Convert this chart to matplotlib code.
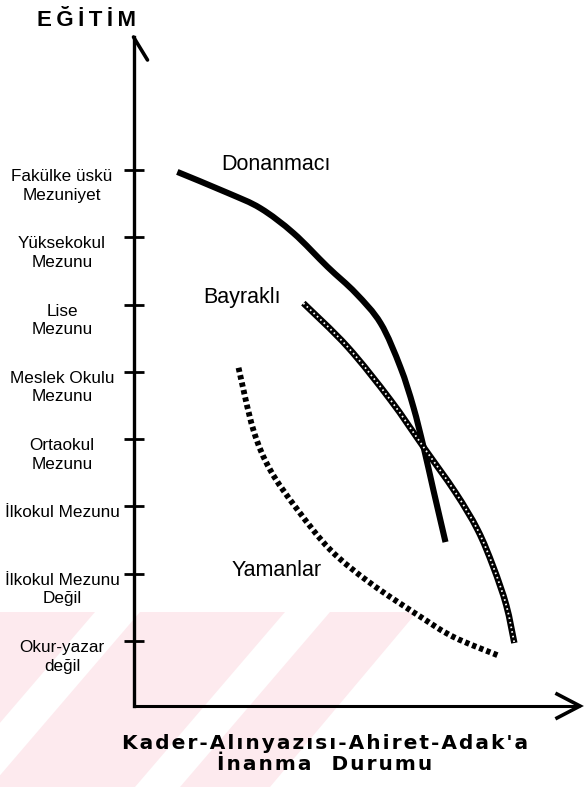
import matplotlib
matplotlib.use("Agg")
import matplotlib.pyplot as plt
from matplotlib.patches import Polygon, PathPatch
from matplotlib.path import Path
import numpy as np

# ---------------- data ----------------
education_levels = ["Okur-yazar\ndeğil", "İlkokul Mezunu\nDeğil", "İlkokul Mezunu",
                    "Ortaokul\nMezunu", "Meslek Okulu\nMezunu", "Lise\nMezunu",
                    "Yüksekokul\nMezunu", "Fakülke üskü\nMezuniyet"]
level_values = list(range(len(education_levels)))

# belief (x, arbitrary 0-100 scale) vs education level (y)
donanmaci_x = [9.8, 21.0, 28.4, 35.8, 43.4, 49.7, 55.3, 59.7, 62.6, 64.9, 67.1, 69.8]
donanmaci_y = [6.97, 6.66, 6.43, 6.06, 5.56, 5.17, 4.72, 4.07, 3.48, 2.88, 2.24, 1.47]

bayrakli_x = [38.0, 47.9, 57.5, 64.9, 72.0, 77.0, 80.5, 83.4, 85.2]
bayrakli_y = [5.02, 4.37, 3.58, 2.88, 2.21, 1.65, 1.10, 0.53, -0.03]

yamanlar_x = [23.5, 26.8, 30.6, 36.7, 44.1, 53.0, 64.2, 71.6, 81.4]
yamanlar_y = [4.06, 3.14, 2.54, 1.95, 1.35, 0.86, 0.36, 0.06, -0.21]

series_names = ["Donanmacı", "Bayraklı", "Yamanlar"]
y_title = "EĞİTİM"
x_title_lines = ["Kader-Alınyazısı-Ahiret-Adak'a", "İnanma  Durumu"]

# ---------------- helpers ----------------
def smooth_path(xs, ys):
    """Catmull-Rom curve through the points, as a Bezier Path."""
    p = np.column_stack([xs, ys]).astype(float)
    n = len(p)
    verts = [p[0]]
    codes = [Path.MOVETO]
    for i in range(n - 1):
        p0 = p[i - 1] if i > 0 else p[i]
        p1, p2 = p[i], p[i + 1]
        p3 = p[i + 2] if i + 2 < n else p[i + 1]
        c1 = p1 + (p2 - p0) / 6.0
        c2 = p2 - (p3 - p1) / 6.0
        verts += [c1, c2, p2]
        codes += [Path.CURVE4] * 3
    return Path(verts, codes)

def spaced(s, sep):
    return sep.join(s)

# ---------------- figure geometry ----------------
W, H = 586, 787
fig = plt.figure(figsize=(W / 100, H / 100), dpi=100)
fig.patch.set_facecolor("white")

# background axes in pixel coordinates for the faint pink watermark
bg = fig.add_axes([0, 0, 1, 1], zorder=0)
bg.set_xlim(0, W)
bg.set_ylim(H, 0)
bg.axis("off")
pink = "#fdeaee"
bg.add_patch(Polygon([(0, 612), (417, 612), (270, 787), (0, 787)], closed=True,
                     facecolor=pink, edgecolor="none"))
for xt in (95, 285):
    bg.add_patch(Polygon([(xt, 612), (xt + 45, 612), (xt + 45 - 150, 787), (xt - 150, 787)],
                         closed=True, facecolor="white", edgecolor="none"))

# main axes
PX_LVL = 67.3          # pixels per education level
Y0 = 641               # pixel row of level 0
PX_X = 4.47            # pixels per x unit
ax_left_px, ax_bot_px, ax_top_px = 133.5, 706, 37
ax = fig.add_axes([ax_left_px / W, (H - ax_bot_px) / H,
                   (W - ax_left_px) / W, (ax_bot_px - ax_top_px) / H], zorder=1)
ax.patch.set_alpha(0)
ax.set_xlim(0, (W - ax_left_px) / PX_X)
ax.set_ylim((Y0 - ax_bot_px) / PX_LVL, (Y0 - ax_top_px) / PX_LVL)
ymin, ymax = ax.get_ylim()

for s in ["top", "right", "bottom"]:
    ax.spines[s].set_visible(False)
ax.spines["left"].set_linewidth(2.4)

# x axis line with arrow
x_end = (580 - ax_left_px) / PX_X
ax.plot([0, x_end], [ymin, ymin], color="black", lw=2.2, clip_on=False,
        solid_capstyle="butt")
ax.plot([x_end - 23 / PX_X, x_end, x_end - 23 / PX_X],
        [ymin + 12 / PX_LVL, ymin, ymin - 12 / PX_LVL],
        color="black", lw=2.6, clip_on=False, solid_joinstyle="miter")
# y axis arrow barb (right side only)
ax.plot([0, 14 / PX_X], [ymax, ymax - 23 / PX_LVL], color="black", lw=2.6,
        clip_on=False, solid_capstyle="round")

# ticks
ax.set_yticks(level_values)
ax.set_yticklabels([])
ax.tick_params(axis="y", direction="inout", length=14, width=2.0, color="black")
ax.set_xticks([])

label_font = ["Liberation Sans Narrow", "Liberation Sans", "DejaVu Sans"]
label_x = (62 - ax_left_px) / PX_X
for lv, lab in zip(level_values, education_levels):
    ax.text(label_x, lv + 1 / PX_LVL, lab, ha="center", va="top",
            multialignment="center", fontsize=12.3, family=label_font,
            linespacing=1.3, clip_on=False)

# series (smooth curves through the read points)
def draw(xs, ys, **kw):
    patch = PathPatch(smooth_path(xs, ys), fill=False, **kw)
    ax.add_patch(patch)

draw(donanmaci_x, donanmaci_y, edgecolor="black", lw=4.4, capstyle="butt",
     joinstyle="round", zorder=3)
draw(bayrakli_x, bayrakli_y, edgecolor="black", lw=4.6, capstyle="butt", zorder=4)
draw(bayrakli_x, bayrakli_y, edgecolor="white", lw=1.3,
     linestyle=(0, (0.9, 1.7)), zorder=5)
draw(yamanlar_x, yamanlar_y, edgecolor="black", lw=4.2,
     linestyle=(0, (0.75, 0.55)), capstyle="butt", zorder=3)

# series labels
name_font = ["Liberation Sans", "DejaVu Sans"]
ax.text((221 - ax_left_px) / PX_X, (Y0 - 164) / PX_LVL, series_names[0],
        fontsize=15.5, family=name_font, ha="left", va="center")
ax.text((203 - ax_left_px) / PX_X, (Y0 - 298) / PX_LVL, series_names[1],
        fontsize=15.5, family=name_font, ha="left", va="center")
ax.text((232 - ax_left_px) / PX_X, (Y0 - 570) / PX_LVL, series_names[2],
        fontsize=15.5, family=name_font, ha="left", va="center")

# axis titles
fig.text(37 / W, 1 - 21 / H, spaced(y_title, "\u2009"), fontsize=16, fontweight="bold",
         family=["Liberation Sans", "DejaVu Sans"], ha="left", va="center")
fig.text(325 / W, 1 - 754 / H,
         "\n".join(spaced(l, "\u200a") for l in x_title_lines), fontsize=14.5,
         fontweight="bold", family=["DejaVu Sans"], ha="center", va="center",
         multialignment="center", linespacing=1.12)

fig.savefig("out.png", dpi=100, facecolor="white")
